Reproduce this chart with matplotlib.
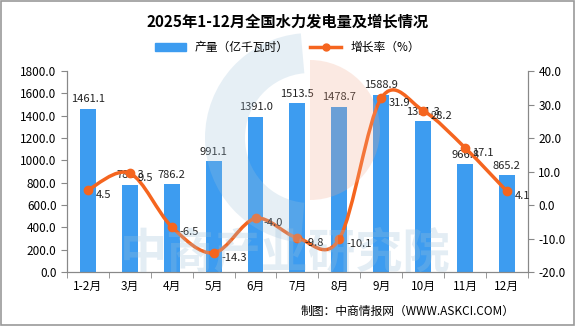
import matplotlib
matplotlib.use("Agg")
import matplotlib.pyplot as plt
import numpy as np
from matplotlib.path import Path
from matplotlib.patches import PathPatch, Wedge

plt.rcParams['font.family'] = ['Noto Sans CJK SC', 'DejaVu Sans']

months = ['1-2月', '3月', '4月', '5月', '6月', '7月', '8月', '9月', '10月', '11月', '12月']
output = [1461.1, 781.3, 786.2, 991.1, 1391.0, 1513.5, 1478.7, 1588.9, 1351.3, 966.8, 865.2]
growth = [4.5, 9.5, -6.5, -14.3, -4.0, -9.8, -10.1, 31.9, 28.2, 17.1, 4.1]

bar_color = '#3d9cf0'
line_color = '#f5651f'
axis_color = '#888888'


def smooth_path(x, y):
    # smoothed line like the spreadsheet one (Catmull-Rom as Bezier pieces)
    pts = np.column_stack([x, y]).astype(float)
    n = len(pts)
    verts = [pts[0]]
    codes = [Path.MOVETO]
    for i in range(n - 1):
        p0 = pts[i - 1] if i > 0 else pts[i]
        p1 = pts[i]
        p2 = pts[i + 1]
        p3 = pts[i + 2] if i + 2 < n else pts[i + 1]
        verts += [p1 + (p2 - p0) / 6, p2 - (p3 - p1) / 6, p2]
        codes += [Path.CURVE4] * 3
    return Path(verts, codes)


fig = plt.figure(figsize=(5.75, 3.26), dpi=100)
ax = fig.add_axes([0.1165, 0.1656, 0.8015, 0.6164])
ax2 = ax.twinx()

x = np.arange(len(months))
ax.bar(x, output, width=0.38, color=bar_color, zorder=2)
for xi, v in zip(x, output):
    ax.text(xi, v + 40, f'{v:.1f}', ha='center', va='bottom', fontsize=8, color='#222222')

ax.set_ylim(0, 1800)
ax.set_yticks(np.arange(0, 1801, 200))
ax.set_yticklabels([f'{v:.1f}' for v in np.arange(0, 1801, 200)])
ax.set_xlim(-0.5, len(months) - 0.5)
ax.set_xticks(x)
ax.set_xticklabels(months)
ax.set_xticks(np.arange(-0.5, len(months), 1), minor=True)
ax.tick_params(axis='x', which='major', length=0, pad=6, labelsize=8.5)
ax.tick_params(axis='x', which='minor', length=4, color=axis_color)
ax.tick_params(axis='y', length=4, color=axis_color, labelsize=8.5)

ax2.add_patch(PathPatch(smooth_path(x, growth), fill=False, edgecolor=line_color, lw=2.5, zorder=3))
ax2.plot(x, growth, 'o', color=line_color, ms=6, zorder=4)
for xi, v in zip(x, growth):
    ax2.text(xi + 0.18, v - 1.5, f'{v:.1f}', ha='left', va='center', fontsize=8, color='#222222')
ax2.set_ylim(-20, 40)
ax2.set_yticks(np.arange(-20, 41, 10))
ax2.set_yticklabels([f'{v:.1f}' for v in np.arange(-20, 41, 10)])
ax2.tick_params(axis='y', length=4, color=axis_color, labelsize=8.5)

for a in (ax, ax2):
    a.spines['top'].set_visible(False)
    for s in ('left', 'right', 'bottom'):
        a.spines[s].set_color(axis_color)

# legend
h1 = plt.Rectangle((0, 0), 1, 1, color=bar_color)
h2, = ax.plot([], [], '-o', color=line_color, lw=2.5, ms=5)
fig.legend([h1, h2], ['产量（亿千瓦时）', '增长率（%）'], loc='center', bbox_to_anchor=(0.5, 0.855),
           ncol=2, frameon=False, fontsize=8.5, handlelength=2.6, columnspacing=1.8)

fig.text(0.5, 0.935, '2025年1-12月全国水力发电量及增长情况', ha='center', va='center',
         fontsize=11, fontweight='bold')
fig.text(0.895, 0.045, '制图：中商情报网（WWW.ASKCI.COM）', ha='right', va='center', fontsize=8.5)

# watermark
wm = fig.add_axes([0, 0, 1, 1], facecolor='none')
wm.set_xlim(0, 575)
wm.set_ylim(326, 0)
wm.axis('off')
wm.add_patch(Wedge((310, 138), 105, 95, 265, width=40, color='#9dc0da', alpha=0.25, lw=0))
wm.add_patch(Wedge((310, 130), 70, -90, 90, color='#f3a98c', alpha=0.25, lw=0))
wm.text(285, 253, '中商产业研究院', ha='center', va='center', fontsize=34, fontweight='bold',
        color='#9dc0da', alpha=0.28)

fig.patches.append(plt.Rectangle((0.001, 0.002), 0.997, 0.995, transform=fig.transFigure,
                                 fill=False, edgecolor='#999999', lw=1.2))

fig.savefig('out.png', dpi=100)
